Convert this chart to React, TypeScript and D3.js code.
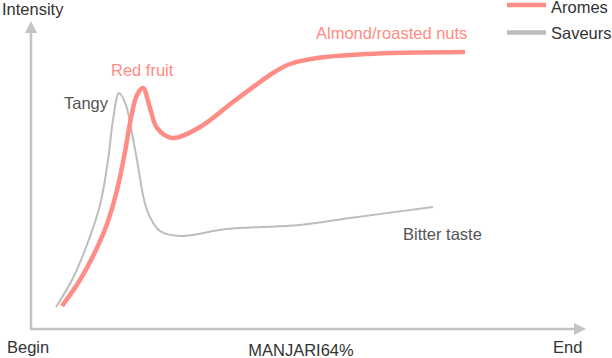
import React from "react";
import * as d3 from "d3";

const W = 612;
const H = 358;

// Progress (0-100) along the tasting, intensity (0-100)
const aromesX = [5.64, 8.91, 11.64, 13.82, 15.64, 17.09, 18.18, 19.27, 20.36, 21.64, 22.91, 25.64, 30.73, 36.73, 44.0, 47.09, 52.0, 61.09, 78.91];
const aromesY = [7.33, 16.0, 25.33, 34.67, 46.0, 58.67, 70.0, 77.67, 80.0, 73.33, 66.67, 63.33, 67.0, 75.33, 85.0, 88.0, 90.0, 91.33, 92.0];

const saveursX = [4.55, 7.45, 9.82, 12.55, 14.0, 14.91, 16.0, 17.27, 18.18, 19.27, 21.09, 23.45, 27.09, 35.64, 48.91, 58.0, 73.09];
const saveursY = [7.0, 16.0, 26.0, 41.0, 56.0, 69.33, 78.33, 74.33, 66.67, 56.0, 39.33, 32.33, 30.67, 33.0, 34.33, 36.67, 40.33];

const seriesNames = ["Aromes", "Saveurs"];
const seriesColors = ["#ff8c85", "#bdbdbd"];
const axisLabels = { y: "Intensity", begin: "Begin", end: "End", title: "MANJARI64%" };

const FONT = "'Liberation Sans', Arial, Helvetica, sans-serif";

export default function App() {
  const x = d3.scaleLinear().domain([0, 100]).range([31, 581]);
  const y = d3.scaleLinear().domain([0, 100]).range([328, 28]);

  const line = d3
    .line<[number, number]>()
    .x((d) => x(d[0]))
    .y((d) => y(d[1]))
    .curve(d3.curveCatmullRom.alpha(0.5));

  const aromes = aromesX.map((v, i) => [v, aromesY[i]] as [number, number]);
  const saveurs = saveursX.map((v, i) => [v, saveursY[i]] as [number, number]);

  const axisColor = "#c4c4c4";
  const x0 = x(0);
  const y0 = y(0);

  return (
    <svg
      width={W}
      height={H}
      style={{ position: "absolute", left: 0, top: 0, background: "#fff" }}
      fontFamily={FONT}
    >
      {/* axes */}
      <line x1={x0} y1={y0} x2={x0} y2={32} stroke={axisColor} strokeWidth={2.5} />
      <polygon points={`${x0},21 ${x0 - 6},33 ${x0 + 6},33`} fill={axisColor} />
      <line x1={x0 - 1.25} y1={y0 + 1} x2={575} y2={y0 + 1} stroke={axisColor} strokeWidth={2.5} />
      <polygon points={`586,${y0 + 1} 574,${y0 - 5} 574,${y0 + 7}`} fill={axisColor} />

      {/* series */}
      <path d={line(saveurs) || ""} fill="none" stroke={seriesColors[1]} strokeWidth={2} />
      <path d={line(aromes) || ""} fill="none" stroke={seriesColors[0]} strokeWidth={4.5} strokeLinecap="butt" />

      {/* annotations */}
      <text x={316} y={38.5} fontSize={16.5} fill={seriesColors[0]}>Almond/roasted nuts</text>
      <text x={111} y={76} fontSize={16.5} fill={seriesColors[0]}>Red fruit</text>
      <text x={64} y={109} fontSize={16.5} fill="#555">Tangy</text>
      <text x={403} y={240} fontSize={16.5} fill="#555">Bitter taste</text>

      {/* axis labels */}
      <text x={2} y={15} fontSize={16.5} fill="#333">{axisLabels.y}</text>
      <text x={7} y={353} fontSize={16.5} fill="#333">{axisLabels.begin}</text>
      <text x={553} y={353} fontSize={16.5} fill="#333">{axisLabels.end}</text>
      <text x={301} y={356} fontSize={16.5} fill="#333" textAnchor="middle">{axisLabels.title}</text>

      {/* legend */}
      {seriesNames.map((n, i) => (
        <g key={n} transform={`translate(507, ${5 + i * 27.5})`}>
          <line x1={0} x2={39} y1={0} y2={0} stroke={seriesColors[i]} strokeWidth={4.5} />
          <text x={44} y={i === 0 ? 7.5 : 6.5} fontSize={16.5} fill="#333">{n}</text>
        </g>
      ))}
    </svg>
  );
}
